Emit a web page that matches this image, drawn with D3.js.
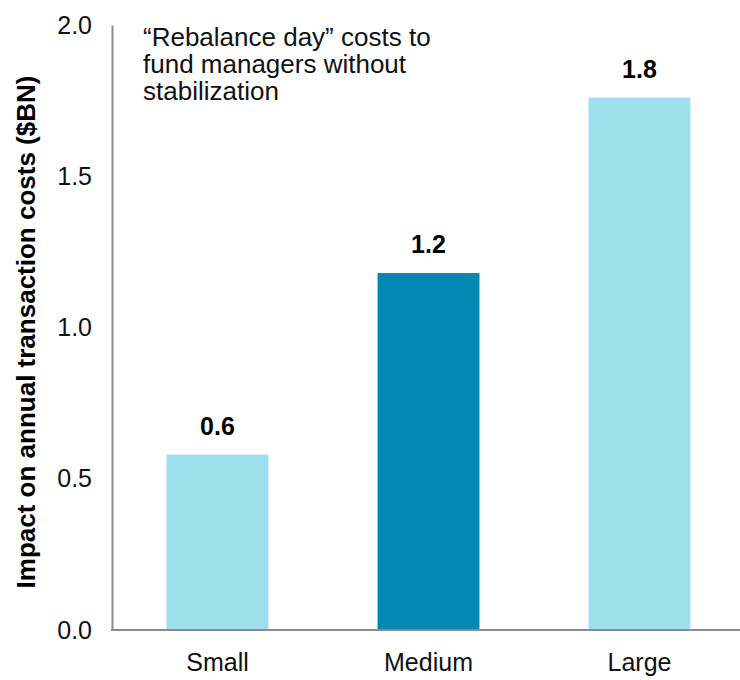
<!DOCTYPE html>
<html>
<head>
<meta charset="utf-8">
<script src="https://cdn.jsdelivr.net/npm/d3@7"></script>
<style>
  html, body { margin: 0; padding: 0; background: #fff; }
  svg { display: block; }
  text { font-family: "Liberation Sans", Arial, sans-serif; }
</style>
</head>
<body>
<svg id="chart" width="740" height="680"></svg>
<script>
const categories = ["Small", "Medium", "Large"];
const values = [0.58, 1.18, 1.76];
const valueLabels = ["0.6", "1.2", "1.8"];
const barColors = ["#9ee0ec", "#0189b4", "#9ee0ec"];
const yTicks = [0.0, 0.5, 1.0, 1.5, 2.0];
const yTitle = "Impact on annual transaction costs ($BN)";
const noteLines = ["\u201CRebalance day\u201D costs to", "fund managers without", "stabilization"];

const svg = d3.select("#chart");
const mLeft = 112, mRight = 745, mTop = 25, mBottom = 630;

const x = d3.scaleBand().domain(categories).range([mLeft, mRight])
  .paddingInner(0.517).paddingOuter(0.2585);
const y = d3.scaleLinear().domain([0, 2]).range([mBottom, mTop]);

// bars
svg.append("g").selectAll("rect").data(categories).join("rect")
  .attr("x", d => x(d))
  .attr("width", x.bandwidth())
  .attr("y", (d, i) => y(values[i]))
  .attr("height", (d, i) => y(0) - y(values[i]))
  .attr("fill", (d, i) => barColors[i]);

// value labels
svg.append("g").selectAll("text").data(categories).join("text")
  .attr("x", d => x(d) + x.bandwidth() / 2)
  .attr("y", (d, i) => y(values[i]) - 20)
  .attr("text-anchor", "middle")
  .attr("font-size", 25)
  .attr("font-weight", "bold")
  .attr("fill", "#000")
  .text((d, i) => valueLabels[i]);

// y axis
const yAxis = d3.axisLeft(y).tickValues(yTicks).tickFormat(d3.format(".1f")).tickSize(0).tickPadding(20);
const gy = svg.append("g").attr("transform", `translate(${mLeft},0)`).call(yAxis);
gy.select(".domain").attr("stroke", "#8c8c8c").attr("stroke-width", 2);
gy.selectAll("text").attr("font-size", 25).attr("fill", "#111")
  .style("font-family", "'Liberation Sans', Arial, sans-serif");

// x axis
const xAxis = d3.axisBottom(x).tickSize(0).tickPadding(23);
const gx = svg.append("g").attr("transform", `translate(0,${mBottom})`).call(xAxis);
gx.select(".domain").attr("stroke", "#8c8c8c").attr("stroke-width", 2).attr("d", `M${mLeft - 1},0H740`);
gx.selectAll("text").attr("font-size", 25).attr("fill", "#111")
  .style("font-family", "'Liberation Sans', Arial, sans-serif");

// y title
svg.append("text")
  .attr("transform", `translate(35,332) rotate(-90)`)
  .attr("text-anchor", "middle")
  .attr("font-size", 26)
  .attr("font-weight", "bold")
  .attr("fill", "#000")
  .text(yTitle);

// annotation
svg.append("g").selectAll("text").data(noteLines).join("text")
  .attr("x", 143)
  .attr("y", (d, i) => 46 + i * 27)
  .attr("font-size", 26)
  .attr("fill", "#111")
  .text(d => d);
</script>
</body>
</html>
